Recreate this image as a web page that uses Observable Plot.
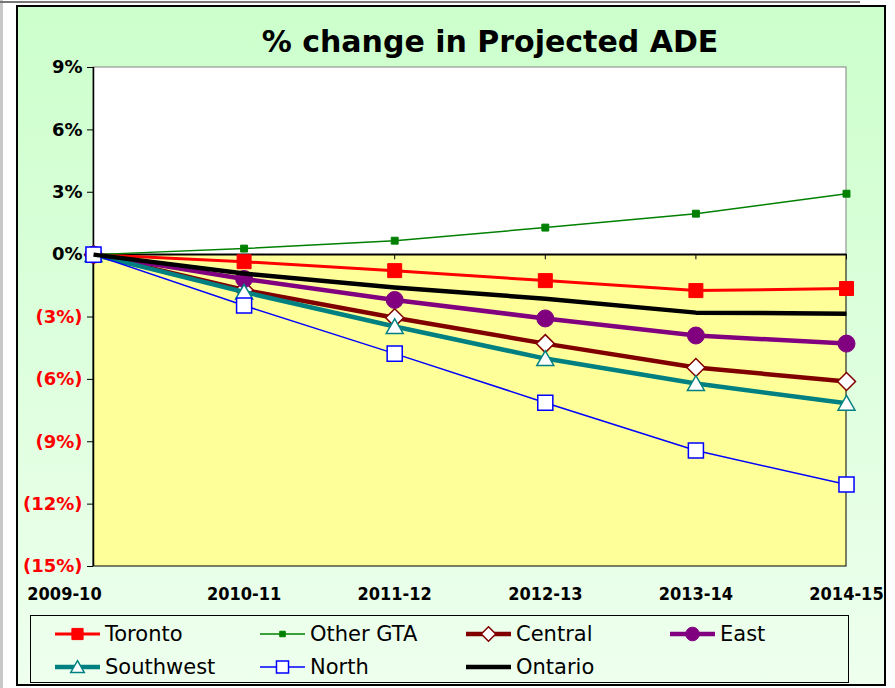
<!DOCTYPE html>
<html>
<head>
<meta charset="utf-8">
<script src="https://cdn.jsdelivr.net/npm/d3@7"></script>
<script src="https://cdn.jsdelivr.net/npm/@observablehq/plot@0.6"></script>
<style>
  html, body { margin: 0; padding: 0; background: #fff; }
  #wrap { position: relative; width: 895px; height: 688px; overflow: hidden; background: #fff; }
  #frame { position: absolute; left: 16px; top: 5px; width: 866px; height: 677px;
           border: 2.5px solid #000; background: linear-gradient(#CCFFCC, #EEFFEE); }
  #topline { position: absolute; left: 0; top: 1px; width: 860px; height: 2px; background: #777; }
  #leftline { position: absolute; left: 0; top: 0; width: 3px; height: 688px; background: #c8c8c8; }
  #title { position: absolute; left: 0; top: 27px; width: 980px; text-align: center;
           font: bold 30px "DejaVu Sans", sans-serif; line-height: 30px; color: #000; }
  #chart { position: absolute; left: 0; top: 0; }
  #legend { position: absolute; left: 30px; top: 615px; width: 817px; height: 66px;
            border: 1.5px solid #000; }
  .entry { position: absolute; display: flex; align-items: center; height: 24px;
           font: 21px "DejaVu Sans", sans-serif; color: #000; white-space: nowrap; }
  .entry svg { margin-right: 4px; }
</style>
</head>
<body>
<div id="wrap">
  <div id="leftline"></div>
  <div id="topline"></div>
  <div id="frame"></div>
  <div id="chart"></div>
  <div id="title">% change in Projected ADE</div>
  <div id="legend"></div>
</div>
<script>
// ---- data ----
const years = ["2009-10", "2010-11", "2011-12", "2012-13", "2013-14", "2014-15"];
const toronto   = [0, -0.34, -0.77, -1.25, -1.73, -1.63];
const otherGTA  = [0,  0.29,  0.67,  1.30,  1.97,  2.93];
const central   = [0, -1.70, -3.04, -4.28, -5.43, -6.10];
const east      = [0, -1.17, -2.18, -3.07, -3.89, -4.28];
const southwest = [0, -1.80, -3.46, -5.00, -6.20, -7.15];
const north     = [0, -2.45, -4.76, -7.12, -9.42, -11.06];
const ontario   = [0, -0.91, -1.58, -2.12, -2.79, -2.84];
const yTicksPos = [0, 3, 6, 9];
const yTicksNeg = [-3, -6, -9, -12, -15];

const seriesNames = ["Toronto", "Other GTA", "Central", "East", "Southwest", "North", "Ontario"];
const seriesValues = [toronto, otherGTA, central, east, southwest, north, ontario];

// styles
const styles = {
  "Toronto":   {color: "#FF0000", width: 3,   symbol: "square",   r: 7.9, fill: "#FF0000", sw: 1},
  "Other GTA": {color: "#008000", width: 1.5, symbol: "square",   r: 3.9, fill: "#008000", sw: 1},
  "Central":   {color: "#800000", width: 4.5, symbol: "diamond2", r: 8.1, fill: "#FFFFFF", sw: 1.5},
  "East":      {color: "#800080", width: 4.5, symbol: "circle",   r: 8.5, fill: "#800080", sw: 1},
  "Southwest": {color: "#008080", width: 4.5, symbol: "triangle", r: 6.3, fill: "#FFFFFF", sw: 1.5, dy: 2},
  "North":     {color: "#0000FF", width: 1.5, symbol: "square",   r: 8.5, fill: "#FFFFFF", sw: 1.5},
  "Ontario":   {color: "#000000", width: 4.5, symbol: null}
};

const idx = years.map((_, i) => i);
const fmt = d => d < 0 ? `(${-d}%)` : `${d}%`;

const marks = [
  Plot.rect([0], {x1: 0, x2: 5, y1: 0, y2: 9, fill: "#FFFFFF", stroke: "#808080"}),
  Plot.rect([0], {x1: 0, x2: 5, y1: -15, y2: 0, fill: "#FFFF99", stroke: "#000000"}),
  Plot.ruleX(idx.slice(1), {x: d => d, y1: 0, y2: -0.25, stroke: "#000"}),
  Plot.ruleX([0], {x: 0, y1: -15, y2: 9, stroke: "#000", strokeWidth: 1.5}),
  Plot.ruleY([0], {y: 0, stroke: "#000", strokeWidth: 1.5}),
  Plot.axisY({ticks: yTicksPos, tickFormat: fmt, tickSize: 6, tickPadding: 5, fill: "#000", label: null,
              fontSize: 18, fontWeight: "bold", fontFamily: "DejaVu Sans"}),
  Plot.axisY({ticks: yTicksNeg, tickFormat: fmt, tickSize: 6, tickPadding: 5, fill: "#FF0000", label: null,
              fontSize: 18, fontWeight: "bold", fontFamily: "DejaVu Sans"}),
  Plot.axisX({ticks: idx.slice(1), tickFormat: i => years[i], tickSize: 0, tickPadding: 21, label: null,
              fontSize: 18, fontWeight: "bold", fontFamily: "DejaVu Sans Condensed", fill: "#000"}),
  Plot.axisX({ticks: [0], tickFormat: i => years[i], tickSize: 0, tickPadding: 21, dx: -29, label: null,
              fontSize: 18, fontWeight: "bold", fontFamily: "DejaVu Sans Condensed", fill: "#000"})
];

seriesNames.forEach((name, s) => {
  const st = styles[name];
  const data = idx.map(i => ({i, v: seriesValues[s][i]}));
  marks.push(Plot.line(data, {x: "i", y: "v", stroke: st.color, strokeWidth: st.width,
                              strokeLinejoin: "round", strokeLinecap: "butt"}));
  if (st.symbol) {
    marks.push(Plot.dot(data, {x: "i", y: "v", symbol: st.symbol, r: st.r, fill: st.fill,
                               stroke: st.color, strokeWidth: st.sw, dy: st.dy || 0}));
  }
});

const chart = Plot.plot({
  width: 895,
  height: 610,
  marginLeft: 93,
  marginRight: 49,
  marginTop: 67,
  marginBottom: 44,
  x: {type: "linear", domain: [0, 5], axis: null},
  y: {type: "linear", domain: [-15, 9], axis: null},
  style: {background: "transparent", overflow: "visible"},
  marks
});
document.getElementById("chart").appendChild(chart);

// ---- legend ----
const legend = d3.select("#legend");
const pos = [
  [24, 6], [229, 6], [435, 6], [639, 6],
  [24, 39], [229, 39], [435, 39]
];
seriesNames.forEach((name, s) => {
  const st = styles[name];
  const e = legend.append("div").attr("class", "entry")
    .style("left", pos[s][0] + "px").style("top", pos[s][1] + "px");
  const svg = e.append("svg").attr("width", 46).attr("height", 22);
  svg.append("line").attr("x1", 0).attr("x2", 45).attr("y1", 11).attr("y2", 11)
    .attr("stroke", st.color).attr("stroke-width", st.width);
  if (st.symbol) {
    const rr = st.r * 0.8;
    if (st.symbol === "circle") {
      svg.append("circle").attr("cx", 22.5).attr("cy", 11).attr("r", rr)
        .attr("fill", st.fill).attr("stroke", st.color).attr("stroke-width", st.sw);
    } else {
      const map = {square: d3.symbolSquare, diamond2: d3.symbolDiamond2, triangle: d3.symbolTriangle};
      const path = d3.symbol(map[st.symbol], Math.PI * rr * rr)();
      svg.append("path").attr("d", path)
        .attr("transform", `translate(22.5,${11 + (st.dy ? 1.5 : 0)})`)
        .attr("fill", st.fill).attr("stroke", st.color).attr("stroke-width", st.sw);
    }
  }
  e.append("span").text(name);
});
</script>
</body>
</html>
